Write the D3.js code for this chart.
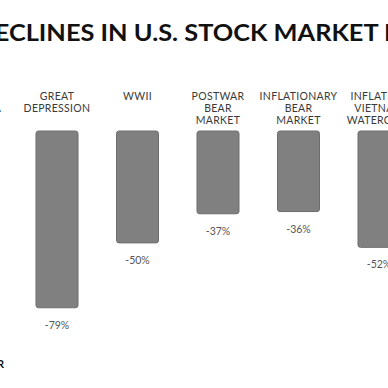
<!DOCTYPE html>
<html>
<head>
<meta charset="utf-8">
<script src="https://cdn.jsdelivr.net/npm/d3@7"></script>
<style>
  html, body { margin: 0; padding: 0; background: #fff; }
  svg { display: block; }
</style>
</head>
<body>
<div id="chart"></div>
<script>
const title = "MAJOR DECLINES IN U.S. STOCK MARKET HISTORY";
const categories = ["wwi", "depression", "wwii", "postwar", "inflationary", "vietnam"];
const labels = [
  ["POST", "WWI ERA"],
  ["GREAT", "DEPRESSION"],
  ["WWII"],
  ["POSTWAR", "BEAR", "MARKET"],
  ["INFLATIONARY", "BEAR", "MARKET"],
  ["INFLATION", "VIETNAM", "WATERGATE"]
];
const declines = [-50, -79, -50, -37, -36, -52];
const footer = "SOURCE: S&P 500 INDEX, CHART BY AUTHOR";

const width = 388;
const height = 388;

const svg = d3.select("#chart").append("svg")
  .attr("width", width)
  .attr("height", height);

const x = d3.scaleBand()
  .domain(categories)
  .range([-63.75, 419.25])
  .paddingInner(0.478)
  .paddingOuter(0.239);

const y = d3.scaleLinear().domain([0, -80]).range([131, 310]);

svg.append("text")
  .attr("x", -120)
  .attr("y", 41)
  .attr("textLength", 612)
  .attr("lengthAdjust", "spacingAndGlyphs")
  .style("font-family", "Lato, sans-serif")
  .style("font-weight", "bold")
  .style("font-size", "23px")
  .style("fill", "#111")
  .text(title);

const g = svg.append("g");

g.selectAll("rect")
  .data(declines)
  .enter()
  .append("rect")
  .attr("x", (d, i) => x(categories[i]))
  .attr("y", y(0))
  .attr("width", x.bandwidth())
  .attr("height", d => y(d) - y(0))
  .attr("rx", 2.5)
  .style("fill", "#808080")
  .style("stroke", "#6e6e6e")
  .style("stroke-width", 1);

const cat = g.selectAll(".cat")
  .data(labels)
  .enter()
  .append("text")
  .attr("class", "cat")
  .attr("text-anchor", "middle")
  .style("font-family", "Lato, sans-serif")
  .style("font-size", "10.5px")
  .style("fill", "#3a3a3a")
  .style("letter-spacing", "0.3px");

cat.each(function (lines, i) {
  const t = d3.select(this);
  lines.forEach((line, j) => {
    t.append("tspan")
      .attr("x", x(categories[i]) + x.bandwidth() / 2)
      .attr("y", 100 + j * 12)
      .text(line);
  });
});

g.selectAll(".val")
  .data(declines)
  .enter()
  .append("text")
  .attr("class", "val")
  .attr("text-anchor", "middle")
  .attr("x", (d, i) => x(categories[i]) + x.bandwidth() / 2)
  .attr("y", d => y(d) + 21)
  .style("font-family", "Lato, sans-serif")
  .style("font-size", "10.5px")
  .style("fill", "#555")
  .text(d => d + "%");

svg.append("text")
  .attr("x", 4)
  .attr("y", 368)
  .attr("text-anchor", "end")
  .style("font-family", "Lato, sans-serif")
  .style("font-weight", "bold")
  .style("font-size", "11px")
  .style("fill", "#111")
  .text(footer);
</script>
</body>
</html>
